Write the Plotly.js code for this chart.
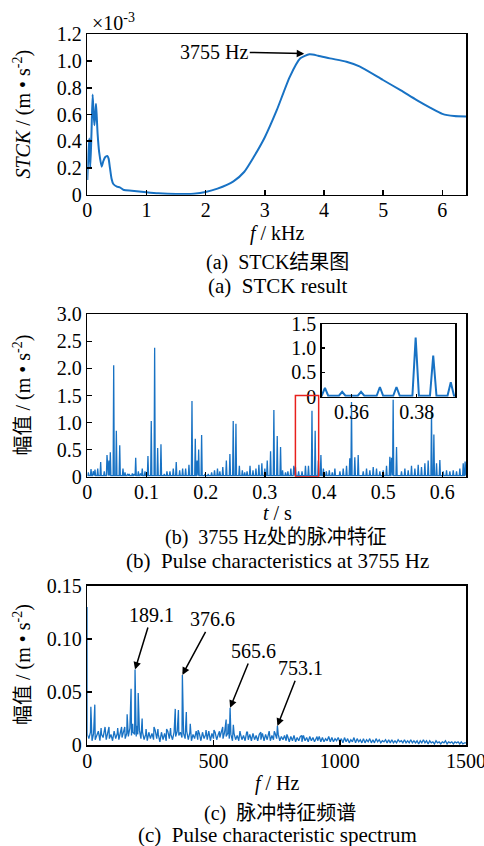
<!DOCTYPE html>
<html><head><meta charset="utf-8">
<script src="https://cdn.plot.ly/plotly-3.0.1.min.js"></script>
<style>html,body{margin:0;padding:0;background:#fff}</style>
</head><body><div id="chart" style="width:484px;height:846px"></div>
<script>
// ---------- (a) STCK result (x: kHz, y: x10^-3 m·s^-2) ----------
const stckFreq = [0, 0.017, 0.034, 0.05, 0.07, 0.09, 0.105, 0.12, 0.135, 0.147, 0.16, 0.175, 0.2, 0.243, 0.27, 0.3, 0.338, 0.36, 0.383, 0.41, 0.44, 0.5, 0.55, 0.62, 0.75, 1.0, 1.2, 1.5, 1.8, 2.0, 2.2, 2.47, 2.65, 2.81, 3.0, 3.2, 3.42, 3.6, 3.755, 3.9, 4.1, 4.38, 4.6, 4.99, 5.3, 5.56, 5.8, 6.0, 6.2, 6.4];
const stckVal  = [0.11, 0.30, 0.42, 0.20, 0.45, 0.75, 0.62, 0.52, 0.60, 0.68, 0.58, 0.45, 0.32, 0.21, 0.25, 0.28, 0.29, 0.27, 0.20, 0.12, 0.08, 0.06, 0.055, 0.035, 0.03, 0.018, 0.010, 0.005, 0.008, 0.02, 0.045, 0.10, 0.17, 0.28, 0.43, 0.63, 0.88, 1.02, 1.05, 1.04, 1.02, 0.995, 0.96, 0.86, 0.78, 0.71, 0.65, 0.605, 0.588, 0.585];

// ---------- (b) pulse train at 3755 Hz (t: s, amplitude: m·s^-2) ----------
const pulseT = [0.0017,0.0063,0.0100,0.0130,0.0176,0.0226,0.0287,0.0333,0.0365,0.0389,0.0446,0.0491,0.0548,0.0603,0.0637,0.0680,0.0710,0.0761,0.0790,0.0818,0.0863,0.0900,0.0929,0.0975,0.1025,0.1081,0.1138,0.1189,0.1245,0.1301,0.1346,0.1397,0.1453,0.1503,0.1561,0.1611,0.1662,0.1718,0.1769,0.1825,0.1855,0.1882,0.1932,0.1988,0.2044,0.2101,0.2150,0.2200,0.2240,0.2290,0.2350,0.2410,0.2466,0.2512,0.2570,0.2620,0.2660,0.2700,0.2750,0.2800,0.2850,0.2900,0.2950,0.3000,0.3041,0.3097,0.3153,0.3210,0.3266,0.3300,0.3350,0.3390,0.3440,0.3490,0.3518,0.3571,0.3629,0.3687,0.3738,0.3797,0.3851,0.3905,0.3948,0.3990,0.4040,0.4090,0.4140,0.4184,0.4269,0.4325,0.4381,0.4436,0.4465,0.4521,0.4578,0.4663,0.4719,0.4775,0.4832,0.4888,0.4944,0.5001,0.5057,0.5113,0.5141,0.5169,0.5226,0.5310,0.5367,0.5423,0.5479,0.5536,0.5592,0.5648,0.5705,0.5761,0.5817,0.5857,0.5902,0.5958,0.6015,0.6071,0.6127,0.6184,0.6240,0.6296,0.6353,0.6385];
const pulseA = [0.08,0.14,0.10,0.13,0.15,0.27,0.10,0.40,0.30,0.45,2.06,0.85,0.58,0.15,0.08,0.05,0.05,0.06,0.05,0.35,0.10,0.06,0.15,0.10,0.38,1.03,2.38,0.53,0.60,0.05,0.10,0.10,0.15,0.27,0.12,0.15,0.15,0.22,1.40,0.70,0.30,0.50,0.77,0.05,0.05,0.08,0.12,0.15,0.10,0.18,0.30,0.42,1.03,0.98,0.20,0.12,0.08,0.10,0.20,0.12,0.15,0.22,0.25,0.15,0.30,0.47,1.23,0.75,0.55,0.12,0.08,0.10,0.15,0.20,0.18,0.10,0.10,0.20,0.20,1.22,0.85,0.30,0.40,0.15,0.10,0.12,0.08,0.15,0.10,0.15,0.20,0.34,1.38,0.36,0.40,0.10,0.15,0.12,0.18,0.15,0.10,0.12,0.20,0.37,0.35,1.42,0.55,0.10,0.15,0.12,0.20,0.15,0.22,0.18,0.25,0.30,1.20,0.78,0.25,0.31,0.10,0.12,0.10,0.12,0.10,0.15,0.25,0.28];
const pulseBase = 0.02;

// ---------- (c) pulse characteristic spectrum (f: Hz, amplitude: m·s^-2) ----------
const specStep = 6.25; // Hz between noise-floor samples
const specNoise = [
 0.010,0.006,0.012,0.004,0.011,0.005,0.009,0.013,0.004,0.010,0.007,0.015,0.005,0.012,0.006,0.010,
 0.004,0.013,0.006,0.011,0.005,0.012,0.007,0.014,0.006,0.011,0.008,0.016,0.009,0.012,0.010,0.008,
 0.010,0.014,0.006,0.012,0.005,0.010,0.004,0.012,0.006,0.011,0.005,0.014,0.006,0.010,0.003,0.012,
 0.005,0.011,0.004,0.013,0.006,0.010,0.005,0.012,0.008,0.013,0.009,0.012,0.007,0.011,0.006,0.013,
 0.005,0.012,0.004,0.010,0.006,0.013,0.005,0.011,0.004,0.012,0.006,0.010,0.005,0.013,0.004,0.011,
 0.006,0.012,0.005,0.010,0.007,0.013,0.006,0.012,0.008,0.011,0.006,0.010,0.004,0.011,0.005,0.009,
 0.004,0.011,0.005,0.009,0.004,0.012,0.005,0.010,0.004,0.011,0.005,0.009,0.004,0.010,0.005,0.011,
 0.004,0.010,0.005,0.012,0.004,0.009,0.005,0.011,0.006,0.010,0.004,0.008,0.005,0.009,0.004,0.008,
 0.003,0.008,0.004,0.009,0.003,0.007,0.004,0.008,0.003,0.009,0.004,0.007,0.003,0.008,0.004,0.007,
 0.003,0.007,0.004,0.008,0.003,0.007,0.003,0.006,0.004,0.008,0.003,0.007,0.003,0.006,0.004,0.007,
 0.003,0.006,0.002,0.007,0.003,0.006,0.002,0.005,0.003,0.007,0.002,0.006,0.003,0.005,0.002,0.006,
 0.002,0.005,0.003,0.006,0.002,0.005,0.002,0.006,0.003,0.005,0.002,0.004,0.003,0.005,0.002,0.005,
 0.002,0.005,0.002,0.004,0.002,0.005,0.003,0.004,0.002,0.005,0.002,0.004,0.002,0.005,0.002,0.004,
 0.002,0.004,0.001,0.004,0.002,0.005,0.002,0.004,0.001,0.004,0.002,0.003,0.001,0.004,0.002,0.003,
 0.001,0.003,0.002,0.004,0.001,0.003,0.002,0.003,0.001,0.003,0.002,0.003,0.001,0.003,0.001,0.002,
 0.002];
const specPeakF = [0, 14.1, 29.7, 54.7, 70.3, 85.9, 120.3, 135.9, 148.4, 157.8, 173.4, 179.7, 189.1, 195.3, 201.6, 217.2, 232.8, 264.1, 279.7, 314.1, 329.7, 348.4, 360.9, 376.6, 392.2, 407.8, 439.1, 470.3, 501.6, 523.4, 536.4, 550.0, 557.8, 565.6, 578.5, 604.7, 634.4, 687.5, 720.3, 740.6, 753.1, 790.6, 850.0, 910.0];
const specPeakA = [0.130, 0.036, 0.038, 0.016, 0.017, 0.017, 0.016, 0.017, 0.017, 0.029, 0.053, 0.020, 0.071, 0.018, 0.049, 0.025, 0.015, 0.017, 0.015, 0.015, 0.016, 0.034, 0.033, 0.066, 0.031, 0.020, 0.014, 0.014, 0.014, 0.013, 0.017, 0.024, 0.020, 0.035, 0.019, 0.013, 0.012, 0.012, 0.013, 0.013, 0.018, 0.010, 0.009, 0.008];
const specLabels = ['189.1', '376.6', '565.6', '753.1'];
const specLabelF = [189.1, 376.6, 565.6, 753.1];
const specLabelA = [0.071, 0.066, 0.035, 0.018];

// ---------- build traces ----------
const BLUE = '#1872c4';
const FONT = 'Times New Roman, Liberation Serif, Noto Sans CJK SC, serif';

const bx = [0], by = [pulseBase];
const half = 0.001;
for (let i = 0; i < pulseT.length; i++) {
  bx.push(pulseT[i] - half, pulseT[i], pulseT[i] + half);
  by.push(pulseBase, pulseA[i], pulseBase);
}
bx.push(0.64); by.push(pulseBase);

const pts = [];
specPeakF.forEach((f, i) => pts.push([f, specPeakA[i], 0]));
specNoise.forEach((a, i) => pts.push([i * specStep, a, 1]));
pts.sort((p, q) => p[0] - q[0] || p[2] - q[2]);
const cx = pts.map(p => p[0]), cy = pts.map(p => p[1]);

const traces = [
  {x: stckFreq, y: stckVal, xaxis: 'x', yaxis: 'y', type: 'scatter', mode: 'lines',
   line: {color: BLUE, width: 2, shape: 'spline', smoothing: 0.6}},
  {x: bx, y: by, xaxis: 'x2', yaxis: 'y2', type: 'scatter', mode: 'lines',
   line: {color: BLUE, width: 1.3}},
  {x: cx, y: cy, xaxis: 'x3', yaxis: 'y3', type: 'scatter', mode: 'lines',
   line: {color: BLUE, width: 1.3}},
  {x: bx, y: by, xaxis: 'x4', yaxis: 'y4', type: 'scatter', mode: 'lines',
   line: {color: BLUE, width: 2}}
];

function ax(extra) {
  return Object.assign({
    showline: true, mirror: true, linecolor: '#000', linewidth: 1.5,
    ticks: 'inside', ticklen: 5, tickwidth: 1.5, tickcolor: '#000',
    showgrid: false, zeroline: false, fixedrange: true, ticklabeloverflow: 'allow',
    tickfont: {family: FONT, size: 20, color: '#000'}
  }, extra);
}
const H = 846, W = 484;
const py = v => 1 - v / H, px = v => v / W;

const annFont = {family: FONT, size: 20, color: '#000'};
const capFont = {family: FONT, size: 21, color: '#000'};
const t = (x, y, text, extra) => Object.assign({xref: 'paper', yref: 'paper', x: px(x), y: py(y), text: text,
  showarrow: false, xanchor: 'center', yanchor: 'middle', font: annFont}, extra || {});
const NB = '\u00a0\u00a0';

const annotations = [
  t(90, 22, '×10<sup>-3</sup>', {xanchor: 'left'}),
  t(22, 114.5, '<i>STCK</i> / (m • s<sup>-2</sup>)', {textangle: -90}),
  t(277, 233, '<i>f</i> / kHz'),
  t(277.5, 263, '(a)' + NB + 'STCK结果图'),
  t(277.5, 286, '(a)' + NB + 'STCK result', {font: capFont}),
  t(22, 395.5, '幅值 / (m • s<sup>-2</sup>)', {textangle: -90}),
  t(277.5, 513, '<i>t</i> / s'),
  t(276, 537, '(b)' + NB + '3755 Hz处的脉冲特征'),
  t(277, 561, '(b)' + NB + 'Pulse characteristics at 3755 Hz', {font: capFont}),
  t(22, 665, '幅值 / (m • s<sup>-2</sup>)', {textangle: -90}),
  t(277, 783, '<i>f</i> / Hz'),
  t(280, 813, '(c)' + NB + '脉冲特征频谱'),
  t(277, 835, '(c)' + NB + 'Pulse characteristic spectrum', {font: capFont}),
  {xref: 'x', yref: 'y', x: 3.70, y: 1.055, text: '3755 Hz', showarrow: true,
   ax: -92, ay: -2, arrowhead: 2, arrowsize: 1, arrowwidth: 1.5, arrowcolor: '#000',
   standoff: 2, font: annFont}
];
const offs = [[16.7, -54.6], [29.9, -55.6], [23.2, -56.8], [22.6, -57.6]];
specLabels.forEach((s, i) => annotations.push({
  xref: 'x3', yref: 'y3', x: specLabelF[i], y: specLabelA[i], text: s, showarrow: true,
  ax: offs[i][0], ay: offs[i][1], arrowhead: 2, arrowsize: 1, arrowwidth: 1.5,
  arrowcolor: '#000', standoff: 0, font: annFont
}));

const XS = -3;
const layout = {
  width: W, height: H, autosize: false,
  margin: {l: 0, r: 0, t: 0, b: 0},
  paper_bgcolor: '#fff', plot_bgcolor: '#fff',
  showlegend: false, hovermode: false,
  font: {family: FONT, size: 20, color: '#000'},
  xaxis: ax({domain: [px(87.3), px(466)], anchor: 'y', range: [0, 6.4], tickvals: [0,1,2,3,4,5,6], ticklabelstandoff: XS}),
  yaxis: ax({domain: [py(194.7), py(34.3)], anchor: 'x', range: [0, 1.2],
    tickvals: [0,0.2,0.4,0.6,0.8,1.0,1.2], ticktext: ['0','0.2','0.4','0.6','0.8','1.0','1.2']}),
  xaxis2: ax({domain: [px(87.3), px(466)], anchor: 'y2', range: [0, 0.64], ticklabelstandoff: XS,
    tickvals: [0,0.1,0.2,0.3,0.4,0.5,0.6], ticktext: ['0','0.1','0.2','0.3','0.4','0.5','0.6']}),
  yaxis2: ax({domain: [py(476.7), py(314.3)], anchor: 'x2', range: [0, 3],
    tickvals: [0,0.5,1,1.5,2,2.5,3], ticktext: ['0','0.5','1.0','1.5','2.0','2.5','3.0']}),
  xaxis3: ax({domain: [px(87.3), px(466)], anchor: 'y3', range: [0, 1500], ticklabelstandoff: XS,
    tickvals: [0,500,1000,1500], ticktext: ['0','500','1000','1500']}),
  yaxis3: ax({domain: [py(745), py(585.7)], anchor: 'x3', range: [0, 0.15],
    tickvals: [0,0.05,0.10,0.15], ticktext: ['0','0.05','0.10','0.15']}),
  xaxis4: ax({domain: [px(321.7), px(455)], anchor: 'y4', range: [0.3508, 0.3918],
    tickvals: [0.36, 0.38], ticktext: ['0.36','0.38'], ticklen: 3, ticklabelstandoff: XS}),
  yaxis4: ax({domain: [py(396.7), py(324)], anchor: 'x4', range: [0, 1.5],
    tickvals: [0,0.5,1,1.5], ticktext: ['0','0.5','1.0','1.5'], ticklen: 3}),
  shapes: [{type: 'rect', xref: 'x2', yref: 'y2', x0: 0.3517, x1: 0.391, y0: 0, y1: 1.5,
    line: {color: '#e8201c', width: 1.5}, layer: 'above'}],
  annotations: annotations
};

Plotly.newPlot('chart', traces, layout, {displayModeBar: false, staticPlot: true});
</script>
</body></html>
